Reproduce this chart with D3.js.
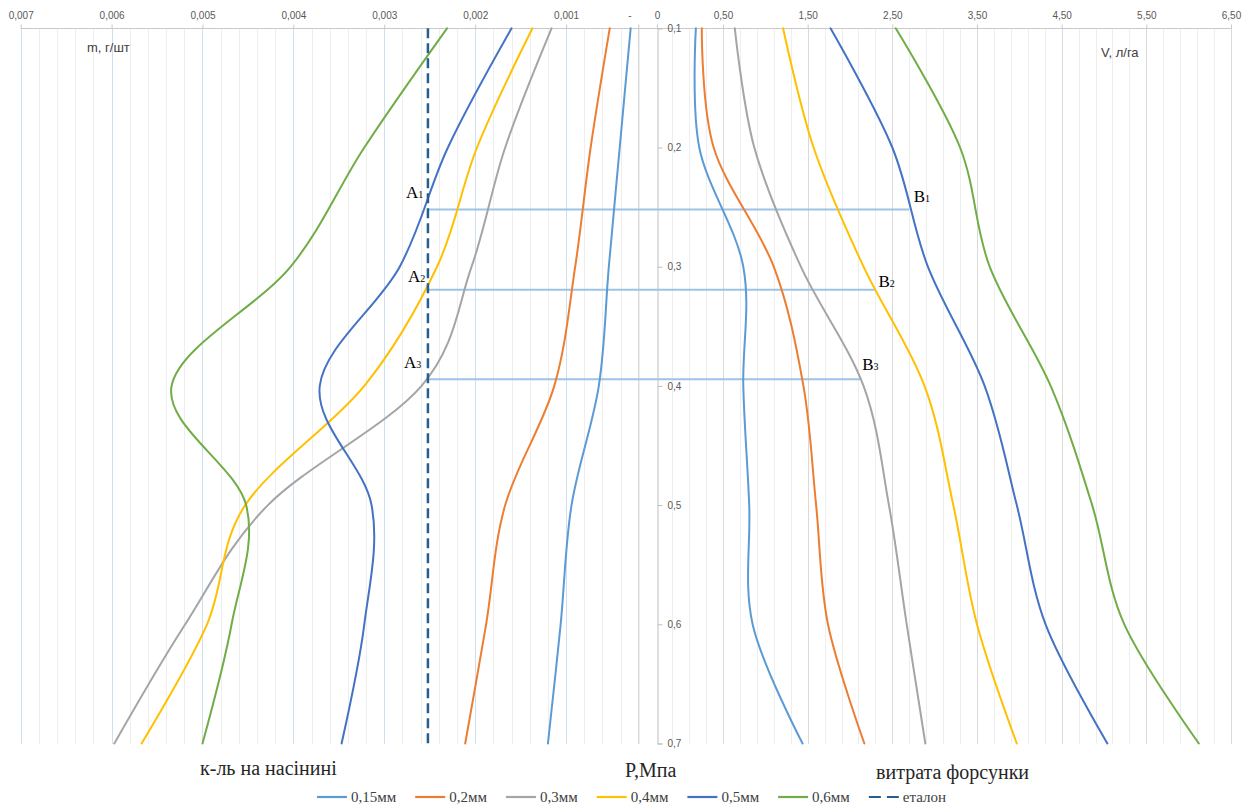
<!DOCTYPE html>
<html>
<head>
<meta charset="utf-8">
<script src="https://cdn.jsdelivr.net/npm/d3@7"></script>
<style>
  html, body { margin: 0; padding: 0; background: #ffffff; }
  svg { display: block; }
</style>
</head>
<body>
<svg id="chart" width="1252" height="807"></svg>
<script>
// ---- data ---------------------------------------------------------------
// working pressure, MPa
const pressure = [0.1, 0.2, 0.3, 0.4, 0.5, 0.6, 0.7];

// nozzle sizes (series names)
const nozzles = ["0,15мм", "0,2мм", "0,3мм", "0,4мм", "0,5мм", "0,6мм"];

// seed load m, g per seed (left half, reversed axis)
const load015 = [0.00029, 0.00041, 0.00053, 0.00064, 0.00094, 0.00106, 0.00120];
const load02  = [0.00052, 0.00073, 0.00090, 0.00113, 0.00167, 0.00188, 0.00211];
const load03  = [0.00116, 0.00167, 0.00204, 0.00259, 0.00428, 0.00519, 0.00597];
const load04  = [0.00137, 0.00198, 0.00242, 0.00322, 0.00453, 0.00495, 0.00567];
const load05  = [0.00160, 0.00230, 0.00283, 0.00371, 0.00314, 0.00322, 0.00347];
const load06  = [0.00231, 0.00322, 0.00403, 0.00534, 0.00452, 0.00468, 0.00500];

// nozzle flow V, l/ha (right half)
const flow015 = [0.18, 0.22, 0.74, 0.74, 0.81, 0.85, 1.44];
const flow02  = [0.25, 0.39, 1.10, 1.45, 1.60, 1.74, 2.17];
const flow03  = [0.64, 0.87, 1.42, 2.16, 2.46, 2.67, 2.89];
const flow04  = [1.21, 1.57, 2.16, 2.88, 3.22, 3.50, 3.97];
const flow05  = [1.77, 2.50, 2.92, 3.59, 3.97, 4.31, 5.04];
const flow06  = [2.54, 3.30, 3.65, 4.37, 4.86, 5.24, 6.12];

// reference seed load ("еталон")
const etalonLoad = 0.00252;

// reading lines A_i -> B_i: pressure level and the flow where they end
const readPressure = [0.252, 0.3193, 0.3945];
const readFlow     = [2.70, 2.30, 2.12];
const readIndex    = ["1", "2", "3"];

// axis ticks
const loadTicks      = [0.007, 0.006, 0.005, 0.004, 0.003, 0.002, 0.001, 0];
const loadTickLabels = ["0,007", "0,006", "0,005", "0,004", "0,003", "0,002", "0,001", "0"];
const flowTicks      = [-0.5, 0.5, 1.5, 2.5, 3.5, 4.5, 5.5, 6.5];
const flowTickLabels = ["-", "0,50", "1,50", "2,50", "3,50", "4,50", "5,50", "6,50"];
const pTicks         = [0.1, 0.2, 0.3, 0.4, 0.5, 0.6, 0.7];
const pTickLabels    = ["0,1", "0,2", "0,3", "0,4", "0,5", "0,6", "0,7"];

// ---- layout ---------------------------------------------------------------
const colors = ["#5B9BD5", "#ED7D31", "#A5A5A5", "#FFC000", "#4472C4", "#70AD47"];
const etalonColor = "#255E91";
const sansFont = "'Liberation Sans', Arial, sans-serif";
const serifFont = "'Liberation Serif', 'Times New Roman', serif";

const loadSeries = [load015, load02, load03, load04, load05, load06];
const flowSeries = [flow015, flow02, flow03, flow04, flow05, flow06];

const svg = d3.select("#chart");

const xM = d3.scaleLinear().domain([0.007, 0]).range([20.7, 657]);
const xV = d3.scaleLinear().domain([-0.5, 6.5]).range([638.3, 1231]);
const yP = d3.scaleLinear().domain([0.1, 0.7]).range([28.3, 743.5]);

const plotTop = yP(0.1), plotBottom = yP(0.7);

// ---- gridlines --------------------------------------------------------------
const grid = svg.append("g").attr("shape-rendering", "crispEdges");

// minor lines: left half every 0.0002, right half every 0.2
const loadMinor = d3.range(0, 36).map(i => i * 0.0002).filter((v, i) => i % 5 !== 0);
const flowMinor = d3.range(0, 36).map(i => -0.5 + i * 0.2).filter((v, i) => i % 5 !== 0 && v <= 6.5);

grid.selectAll("line.mminor").data(loadMinor).join("line")
  .attr("x1", d => Math.round(xM(d)) + 0.5).attr("x2", d => Math.round(xM(d)) + 0.5)
  .attr("y1", plotTop).attr("y2", plotBottom)
  .attr("stroke", "#eeeeee").attr("stroke-width", 1);

grid.selectAll("line.vminor").data(flowMinor.filter(v => xV(v) > 657)).join("line")
  .attr("x1", d => Math.round(xV(d)) + 0.5).attr("x2", d => Math.round(xV(d)) + 0.5)
  .attr("y1", plotTop).attr("y2", plotBottom)
  .attr("stroke", "#eeeeee").attr("stroke-width", 1);

// major lines
grid.selectAll("line.mmajor").data(loadTicks.filter(v => v > 0)).join("line")
  .attr("x1", d => Math.round(xM(d)) + 0.5).attr("x2", d => Math.round(xM(d)) + 0.5)
  .attr("y1", plotTop).attr("y2", plotBottom)
  .attr("stroke", "#cfdff2").attr("stroke-width", 1);

grid.selectAll("line.vmajor").data(flowTicks).join("line")
  .attr("x1", d => Math.round(xV(d)) + 0.5).attr("x2", d => Math.round(xV(d)) + 0.5)
  .attr("y1", plotTop).attr("y2", plotBottom)
  .attr("stroke", "#d9d9d9").attr("stroke-width", 1);

// ---- axes ---------------------------------------------------------------------
// top axis line spanning both halves
svg.append("line")
  .attr("x1", xM(0.007)).attr("x2", xV(6.5))
  .attr("y1", Math.round(plotTop) + 0.5).attr("y2", Math.round(plotTop) + 0.5)
  .attr("stroke", "#c9c9c9").attr("stroke-width", 1);

const axisM = d3.axisTop(xM).tickValues(loadTicks)
  .tickFormat((d, i) => loadTickLabels[i]).tickSize(4).tickPadding(6);
const gM = svg.append("g").attr("transform", `translate(0,${Math.round(plotTop) + 0.5})`).call(axisM);

const axisV = d3.axisTop(xV).tickValues(flowTicks)
  .tickFormat((d, i) => flowTickLabels[i]).tickSize(4).tickPadding(6);
const gV = svg.append("g").attr("transform", `translate(0,${Math.round(plotTop) + 0.5})`).call(axisV);

[gM, gV].forEach(g => {
  g.select(".domain").remove();
  g.selectAll(".tick line").attr("stroke", "#c9c9c9");
  g.selectAll(".tick text").attr("fill", "#595959")
    .style("font-family", sansFont).style("font-size", "10px");
});
gV.selectAll(".tick text").filter((d, i) => i === 0).attr("dx", -9);

// pressure axis in the middle
const axisP = d3.axisRight(yP).tickValues(pTicks)
  .tickFormat((d, i) => pTickLabels[i]).tickSize(5).tickPadding(5);
const gP = svg.append("g").attr("transform", "translate(657.5,0)").call(axisP);
gP.select(".domain").attr("stroke", "#bfbfbf");
gP.selectAll(".tick line").attr("stroke", "#bfbfbf");
gP.selectAll(".tick text").attr("fill", "#595959")
  .style("font-family", sansFont).style("font-size", "10px");

// ---- reading lines ------------------------------------------------------------
svg.append("g").selectAll("line").data(readPressure).join("line")
  .attr("x1", xM(etalonLoad)).attr("x2", (d, i) => xV(readFlow[i]))
  .attr("y1", d => yP(d)).attr("y2", d => yP(d))
  .attr("stroke", "#9dc3e6").attr("stroke-width", 2);

// ---- series --------------------------------------------------------------------
const lineM = d3.line().x(d => xM(d[0])).y(d => yP(d[1])).curve(d3.curveCatmullRom.alpha(0));
const lineV = d3.line().x(d => xV(d[0])).y(d => yP(d[1])).curve(d3.curveCatmullRom.alpha(0));

const series = svg.append("g").attr("fill", "none").attr("stroke-width", 2)
  .attr("stroke-linecap", "round");

loadSeries.forEach((vals, s) => {
  series.append("path")
    .datum(vals.map((v, i) => [v, pressure[i]]))
    .attr("d", lineM).attr("stroke", colors[s]);
});
flowSeries.forEach((vals, s) => {
  series.append("path")
    .datum(vals.map((v, i) => [v, pressure[i]]))
    .attr("d", lineV).attr("stroke", colors[s]);
});

// reference line
svg.append("line")
  .attr("x1", xM(etalonLoad)).attr("x2", xM(etalonLoad))
  .attr("y1", plotTop).attr("y2", plotBottom)
  .attr("stroke", etalonColor).attr("stroke-width", 2.5)
  .attr("stroke-dasharray", "10,5");

// ---- point labels A_i / B_i ---------------------------------------------------
const aNudge = [[-22, -11], [-20, -7.5], [-24, -11]];
const bNudge = [[4.5, -7], [3, -3], [2, -9]];

function pointLabel(letter, idx, x, y) {
  const t = svg.append("text").attr("x", x).attr("y", y)
    .attr("fill", "#000").style("font-family", serifFont).style("font-size", "17px");
  t.append("tspan").text(letter);
  t.append("tspan").style("font-size", "10px").text(idx);
}
readPressure.forEach((p, i) => {
  pointLabel("A", readIndex[i], xM(etalonLoad) + aNudge[i][0], yP(p) + aNudge[i][1]);
  pointLabel("B", readIndex[i], xV(readFlow[i]) + bNudge[i][0], yP(p) + bNudge[i][1]);
});

// ---- axis titles ---------------------------------------------------------------
svg.append("text").attr("x", 87).attr("y", 52).text("m, г/шт")
  .attr("fill", "#404040").style("font-family", sansFont).style("font-size", "13px");
svg.append("text").attr("x", 1101).attr("y", 57).text("V, л/га")
  .attr("fill", "#404040").style("font-family", sansFont).style("font-size", "13px");

svg.append("text").attr("x", 200).attr("y", 775).text("к-ль на насінині")
  .attr("fill", "#262626").style("font-family", serifFont).style("font-size", "20px");
svg.append("text").attr("x", 625).attr("y", 777).text("P,Мпа")
  .attr("fill", "#262626").style("font-family", serifFont).style("font-size", "20px");
svg.append("text").attr("x", 876).attr("y", 779).text("витрата форсунки")
  .attr("fill", "#262626").style("font-family", serifFont).style("font-size", "20px");

// ---- legend ---------------------------------------------------------------------
const legendItems = nozzles.map((n, i) => ({ name: n, color: colors[i], dash: null }))
  .concat([{ name: "еталон", color: etalonColor, dash: "12,6" }]);

const legend = svg.append("g");
let lx = 0;
const ly = 797;
legendItems.forEach(item => {
  const g = legend.append("g").attr("transform", `translate(${lx},0)`);
  g.append("line").attr("x1", 0).attr("x2", 30).attr("y1", ly).attr("y2", ly)
    .attr("stroke", item.color).attr("stroke-width", 2.2)
    .attr("stroke-dasharray", item.dash);
  const t = g.append("text").attr("x", 34).attr("y", ly + 5).text(item.name)
    .attr("fill", "#404040").style("font-family", serifFont).style("font-size", "15px");
  lx += 34 + t.node().getComputedTextLength() + 19;
});
const legendWidth = lx - 19;
legend.attr("transform", `translate(${631.5 - legendWidth / 2},0)`);
</script>
</body>
</html>
